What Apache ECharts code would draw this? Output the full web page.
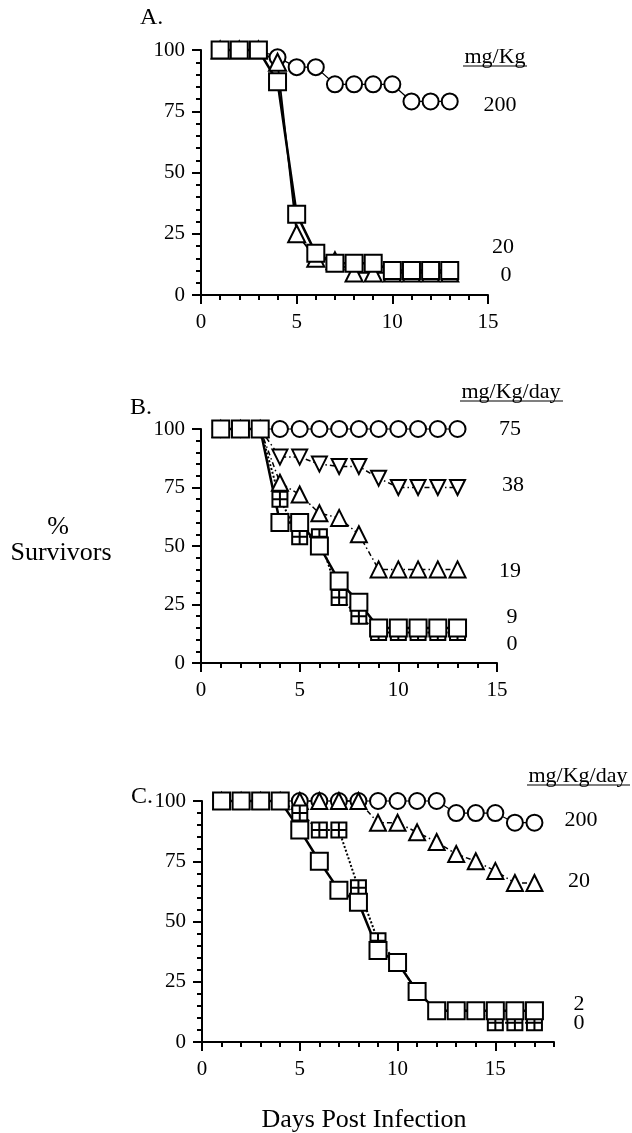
<!DOCTYPE html>
<html>
<head>
<meta charset="UTF-8">
<title>Survivors</title>
<script type="text/javascript" src="https://cdn.jsdelivr.net/npm/echarts@6/dist/echarts.min.js"></script>
<style>
html,body{margin:0;padding:0;background:#fff;}
</style>
</head>
<body>
<div id="main" style="width:632px;height:1133px;"></div>

<script type="text/javascript">
// days post infection
var daysA=[1,2,3,4,5,6,7,8,9,10,11,12,13];
var daysB=[1,2,3,4,5,6,7,8,9,10,11,12,13];
var daysC=[1,2,3,4,5,6,7,8,9,10,11,12,13,14,15,16,17];

// panel A, mg/Kg
var a200=[100,100,100,97,93,93,86,86,86,86,79,79,79];
var a20=[100,100,100,95,25,15,14,9,9,9,9,9,9];
var a0=[100,100,100,87,33,17,13,13,13,10,10,10,10];

// panel B, mg/Kg/day
var b75=[100,100,100,100,100,100,100,100,100,100,100,100,100];
var b38=[100,100,100,88,88,85,84,84,79,75,75,75,75];
var b19=[100,100,100,77,72,64,62,55,40,40,40,40,40];
var b9=[100,100,100,70,54,54,28,20,13,13,13,13,13];
var b0=[100,100,100,60,60,50,35,26,15,15,15,15,15];

// panel C, mg/Kg/day
var c200=[100,100,100,100,100,100,100,100,100,100,100,100,95,95,95,91,91];
var c20=[100,100,100,100,100,100,100,100,91,91,87,83,78,75,71,66,66];
var c2=[100,100,100,100,95,88,88,64,42,33,21,13,13,13,8,8,8];
var c0=[100,100,100,100,88,75,63,58,38,33,21,13,13,13,13,13,13];

var yTicks=[0,25,50,75,100];
var xLabelsC=[0,5,10,15];

var FONT='"Liberation Serif", "Times New Roman", serif';
var crossSq='path://M0,0H10V10H0Z M5,0V10 M0,5H10';

var mychart=echarts.init(document.getElementById('main'));

function pts(days,vals){
  var out=[];
  for(var i=0;i<days.length;i++){ out.push([days[i],vals[i]]); }
  return out;
}

function ser(days,vals,idx,symbol,size,lineType,lineWidth,rotate){
  return {
    type:'line',
    xAxisIndex:idx,
    yAxisIndex:idx,
    data:pts(days,vals),
    symbol:symbol,
    symbolSize:size,
    symbolRotate:rotate||0,
    showSymbol:true,
    clip:false,
    animation:false,
    lineStyle:{color:'#000',width:lineWidth,type:lineType},
    itemStyle:{color:'#fff',borderColor:'#000',borderWidth:2}
  };
}

function yAx(g){
  return {
    gridIndex:g,type:'value',min:0,max:100,interval:25,
    axisLine:{show:true,lineStyle:{color:'#000',width:2}},
    axisTick:{show:true,length:9,lineStyle:{color:'#000',width:2}},
    minorTick:{show:true,splitNumber:5,length:5,lineStyle:{color:'#000',width:2}},
    splitLine:{show:false},
    axisLabel:{margin:16,color:'#000',fontSize:21,fontFamily:FONT}
  };
}

function xAx(g,max){
  return {
    gridIndex:g,type:'value',min:0,max:max,interval:5,position:'bottom',
    axisLine:{show:true,onZero:false,lineStyle:{color:'#000',width:2}},
    axisTick:{show:true,length:9,lineStyle:{color:'#000',width:2}},
    minorTick:{show:true,splitNumber:5,length:5,lineStyle:{color:'#000',width:2}},
    splitLine:{show:false},
    axisLabel:{margin:17,color:'#000',fontSize:21,fontFamily:FONT}
  };
}

// panel C axis runs to 18 with labels only at 0,5,10,15
var xC={
  gridIndex:2,type:'value',min:0,max:18,interval:1,position:'bottom',
  axisLine:{show:true,onZero:false,lineStyle:{color:'#000',width:2}},
  axisTick:{show:true,length:5,lineStyle:{color:'#000',width:2}},
  splitLine:{show:false},
  axisLabel:{margin:17,color:'#000',fontSize:21,fontFamily:FONT,customValues:xLabelsC}
};
var xCmajor={
  gridIndex:2,type:'value',min:0,max:18,position:'bottom',
  axisLine:{show:false},
  axisTick:{show:true,length:9,customValues:xLabelsC,lineStyle:{color:'#000',width:2}},
  splitLine:{show:false},
  axisLabel:{show:false}
};

function txt(s,x,y,size,align){
  return {type:'text',silent:true,style:{text:s,x:x,y:y,fill:'#000',font:size+'px '+FONT,align:align||'center',verticalAlign:'middle'}};
}
function uline(x1,x2,y){
  return {type:'line',silent:true,shape:{x1:x1,y1:y,x2:x2,y2:y},style:{stroke:'#000',lineWidth:1.2}};
}

var option={
  backgroundColor:'#fff',
  animation:false,
  grid:[
    {left:201,top:50,width:287,height:245},
    {left:201,top:429,width:296,height:234},
    {left:202,top:801,width:352,height:241}
  ],
  xAxis:[xAx(0,15),xAx(1,15),xC,xCmajor],
  yAxis:[yAx(0),yAx(1),yAx(2)],
  series:[
    // A
    ser(daysA,a200,0,'circle',16,'solid',1.2),
    ser(daysA,a20,0,'triangle',17,'solid',1.8),
    ser(daysA,a0,0,'rect',17,'solid',2.5),
    // B
    ser(daysB,b75,1,'circle',16,'solid',1.2),
    ser(daysB,b38,1,'triangle',15,[5,3,1.5,3],1.5,180),
    ser(daysB,b19,1,'triangle',16,[5,3,1.5,3],1.5),
    ser(daysB,b9,1,crossSq,15,'dotted',2),
    ser(daysB,b0,1,'rect',17,'solid',2.5),
    // C
    ser(daysC,c200,2,'circle',16,'solid',1.2),
    ser(daysC,c20,2,'triangle',16,[5,3,1.5,3],1.5),
    ser(daysC,c2,2,crossSq,15,'dotted',2),
    ser(daysC,c0,2,'rect',17,'solid',2.5)
  ],
  graphic:[
    txt('A.',140,18,24,'left'),
    txt('B.',130,408,24,'left'),
    txt('C.',131,797,24,'left'),
    txt('mg/Kg',495,57,22),uline(463,527,66),
    txt('mg/Kg/day',511,392,22),uline(460,563,401),
    txt('mg/Kg/day',578,776,22),uline(527,630,785),
    txt('200',500,105,22),txt('20',503,247,22),txt('0',506,275,22),
    txt('75',510,429,22),txt('38',513,485,22),txt('19',510,571,22),txt('9',512,617,22),txt('0',512,644,22),
    txt('200',581,820,22),txt('20',579,881,22),txt('2',579,1004,22),txt('0',579,1023,22),
    txt('%',58,527,26),
    txt('Survivors',61,553,26),
    txt('Days Post Infection',364,1120,26)
  ]
};

mychart.setOption(option);
</script>
</body>
</html>
